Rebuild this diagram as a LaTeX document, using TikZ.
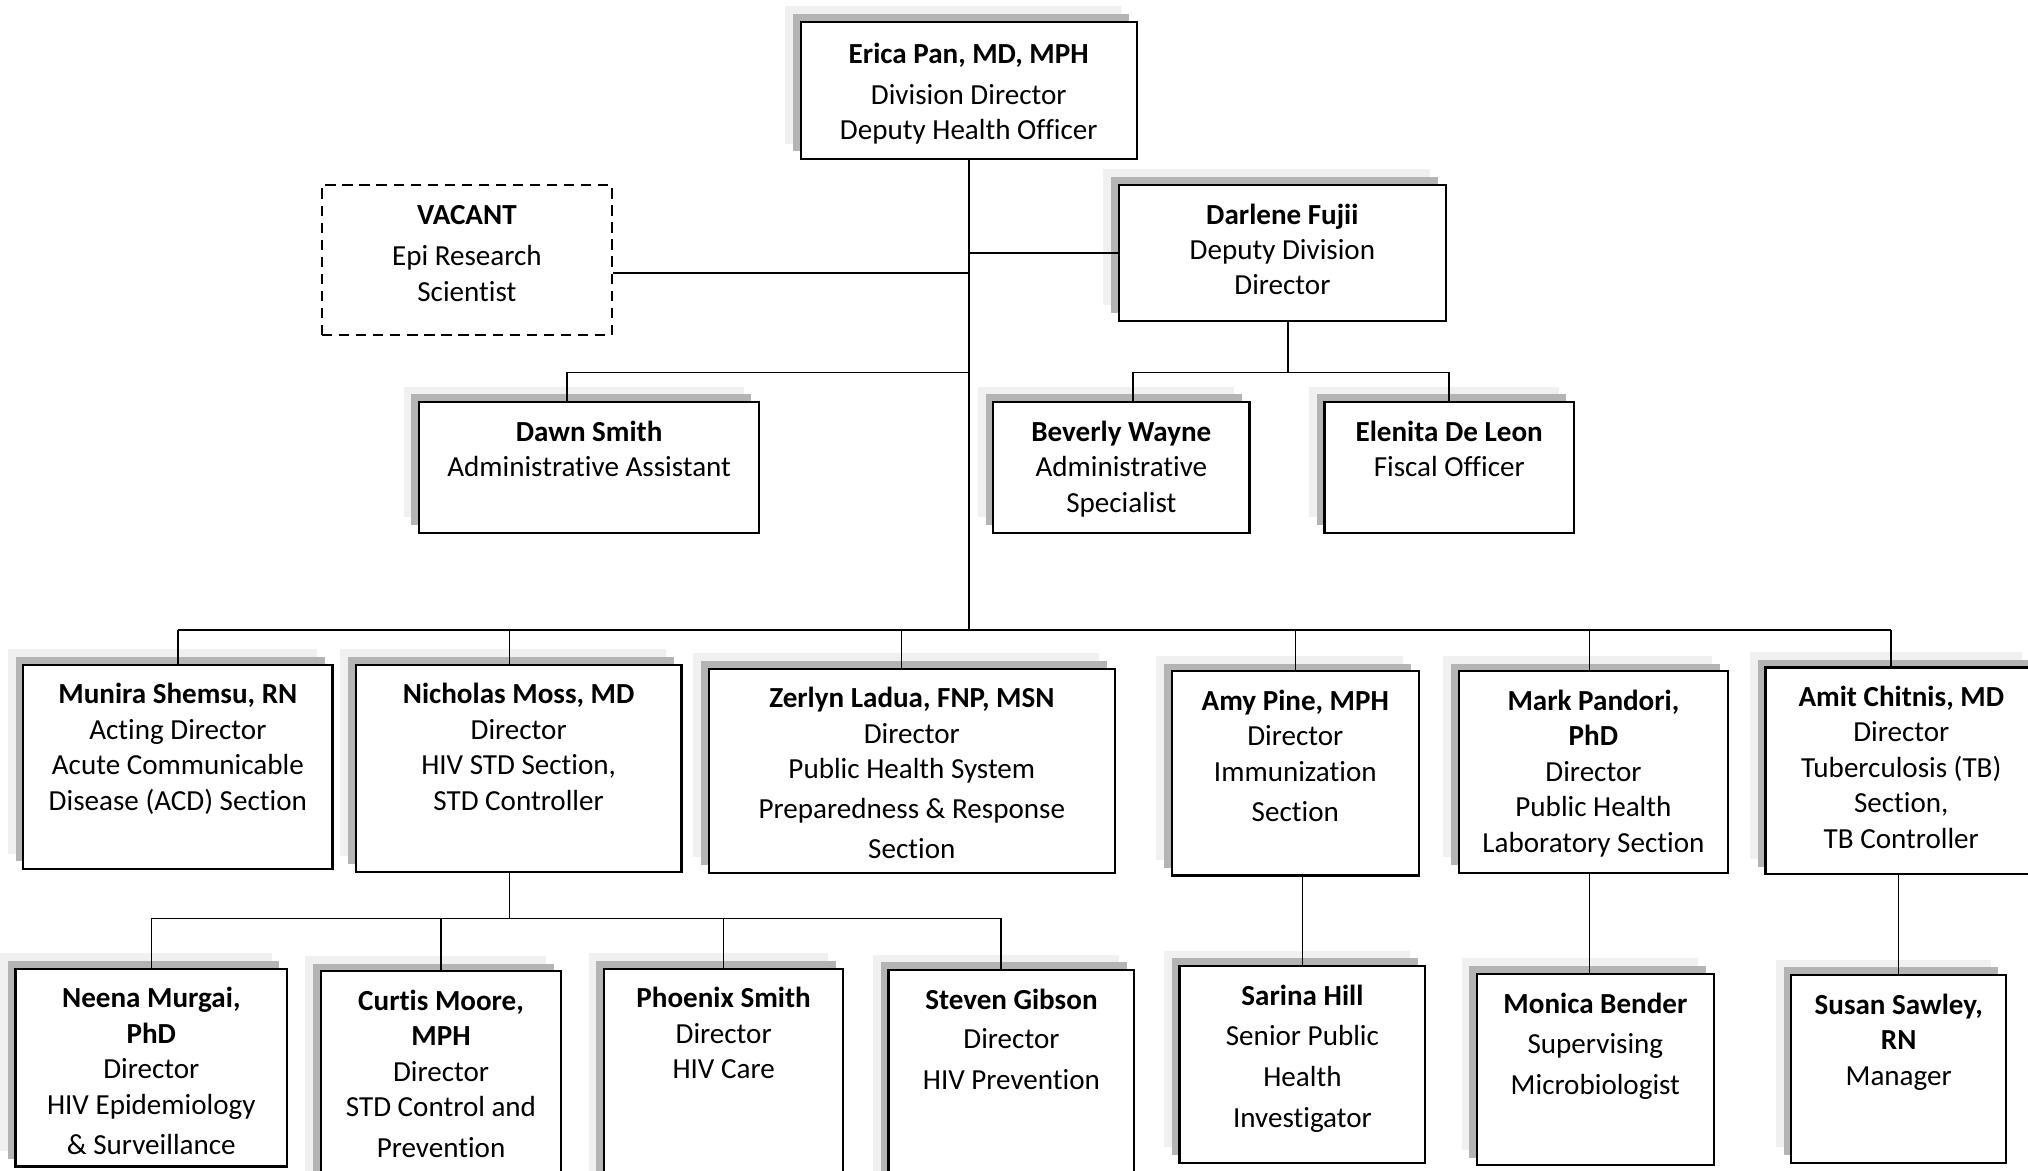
\documentclass[tikz,border=0pt]{standalone}
\usepackage{fontspec}
\setmainfont{Carlito}[Ligatures=NoCommon]
\usetikzlibrary{positioning, shadows}

\definecolor{shlight}{RGB}{240,240,240}
\definecolor{shdark}{RGB}{180,180,180}

\begin{document}
\begin{tikzpicture}[x=0.02cm, y=-0.02cm,
  every node/.style={inner sep=0pt},
  box/.style={rectangle, draw, line width=1pt, fill=white,
    general shadow={fill=shlight, shadow xshift=-0.24cm, shadow yshift=0.24cm},
    general shadow={fill=shdark, shadow xshift=-0.12cm, shadow yshift=0.12cm}},
  vacantbox/.style={rectangle, draw, line width=1pt, dash pattern=on 4.5pt off 3pt},
  txt/.style={align=center, font=\fontsize{12.8}{15.6}\selectfont},
  link/.style={line width=0.7pt}]
  \useasboundingbox (0,0) rectangle (1568,905);
  \fill[white] (0,0) rectangle (1568,905);
  \clip (0,0) rectangle (1568,905);

  % top of the chart
  \node[box, minimum width=5.2cm, minimum height=2.12cm] (erica) at (749,70) {};
  \node[vacantbox, minimum width=4.48cm, minimum height=2.32cm] (vacant) at (361,201) {};
  \node[box, minimum width=5.06cm, minimum height=2.1cm] (darlene) at (991.5,195.5) {};
  \node[box, minimum width=5.26cm, minimum height=2.02cm] (dawn) at (455.5,361.5) {};
  \node[box, minimum width=3.96cm, minimum height=2.02cm] (beverly) at (867,361.5) {};
  \node[box, minimum width=3.86cm, minimum height=2.02cm] (elenita) at (1120.5,361.5) {};

  % sections
  \node[box, minimum width=4.78cm, minimum height=3.16cm] (munira) at (137.5,593) {};
  \node[box, minimum width=5.04cm, minimum height=3.2cm] (nicholas) at (401,594) {};
  \node[box, minimum width=6.28cm, minimum height=3.16cm] (zerlyn) at (705,596) {};
  \node[box, minimum width=3.82cm, minimum height=3.16cm] (amy) at (1001.5,598) {};
  \node[box, minimum width=4.16cm, minimum height=3.12cm] (mark) at (1232,597) {};
  \node[box, minimum width=4.2cm, minimum height=3.2cm] (amit) at (1470,596) {};

  % units
  \node[box, minimum width=4.2cm, minimum height=3.06cm] (neena) at (117,825.5) {};
  \node[box, minimum width=3.72cm, minimum height=3.58cm] (curtis) at (341,840.5) {};
  \node[box, minimum width=3.7cm, minimum height=3.62cm] (phoenix) at (559.5,839.5) {};
  \node[box, minimum width=3.8cm, minimum height=3.6cm] (steven) at (782,840) {};
  \node[box, minimum width=3.8cm, minimum height=3.04cm] (sarina) at (1007,823) {};
  \node[box, minimum width=3.66cm, minimum height=2.96cm] (monica) at (1233.5,827) {};
  \node[box, minimum width=3.32cm, minimum height=2.9cm] (susan) at (1468,826.5) {};

  % texts
  \node[txt, below=0.33cm of erica.north] (erica-t) {\textbf{Erica Pan, MD, MPH}\\[2.5pt] Division Director\\ Deputy Health Officer};
  \node[txt, below=0.33cm of vacant.north] (vacant-t) {\textbf{VACANT}\\[2.5pt] Epi Research\\ Scientist};
  \node[txt, below=0.3cm of darlene.north] (darlene-t) {\textbf{Darlene Fujii}\\ Deputy Division\\ Director};
  \node[txt, below=0.3cm of dawn.north] (dawn-t) {\textbf{Dawn Smith}\\ Administrative Assistant};
  \node[txt, below=0.3cm of beverly.north] (beverly-t) {\textbf{Beverly Wayne}\\ Administrative\\ Specialist};
  \node[txt, below=0.3cm of elenita.north] (elenita-t) {\textbf{Elenita De Leon}\\ Fiscal Officer};
  \node[txt, below=0.3cm of munira.north] (munira-t) {\textbf{Munira Shemsu, RN}\\ Acting Director\\ Acute Communicable\\ Disease (ACD) Section};
  \node[txt, below=0.3cm of nicholas.north] (nicholas-t) {\textbf{Nicholas Moss, MD}\\ Director\\ HIV STD Section,\\ STD Controller};
  \node[txt, below=0.3cm of zerlyn.north] (zerlyn-t) {\textbf{Zerlyn Ladua, FNP, MSN}\\ Director\\ Public Health System\\[1.8pt] Preparedness \& Response\\[2.3pt] Section};
  \node[txt, below=0.3cm of amy.north] (amy-t) {\textbf{Amy Pine, MPH}\\ Director\\ Immunization\\[2.3pt] Section};
  \node[txt, below=0.3cm of mark.north] (mark-t) {\textbf{Mark Pandori,}\\ \textbf{PhD}\\ Director\\ Public Health\\ Laboratory Section};
  \node[txt, below=0.3cm of amit.north] (amit-t) {\textbf{Amit Chitnis, MD}\\ Director\\ Tuberculosis (TB)\\ Section,\\ TB Controller};
  \node[txt, below=0.3cm of neena.north] (neena-t) {\textbf{Neena Murgai,}\\ \textbf{PhD}\\ Director\\ HIV Epidemiology\\[2.3pt] \& Surveillance};
  \node[txt, below=0.3cm of curtis.north] (curtis-t) {\textbf{Curtis Moore,}\\ \textbf{MPH}\\ Director\\ STD Control and\\[2.3pt] Prevention};
  \node[txt, below=0.3cm of phoenix.north] (phoenix-t) {\textbf{Phoenix Smith}\\ Director\\ HIV Care};
  \node[txt, below=0.3cm of steven.north] (steven-t) {\textbf{Steven Gibson}\\[1.8pt] Director\\[2.3pt] HIV Prevention};
  \node[txt, below=0.3cm of sarina.north] (sarina-t) {\textbf{Sarina Hill}\\[2.3pt] Senior Public\\[2.3pt] Health\\[2.3pt] Investigator};
  \node[txt, below=0.3cm of monica.north] (monica-t) {\textbf{Monica Bender}\\[2.3pt] Supervising\\[2.3pt] Microbiologist};
  \node[txt, below=0.3cm of susan.north] (susan-t) {\textbf{Susan Sawley,}\\ \textbf{RN}\\ Manager};

  % connectors
  \coordinate (bus) at (749,487);
  \coordinate (vj) at (749,211);
  \coordinate (aj) at (749,288);
  \coordinate (dj) at (996,288);
  \coordinate (nj) at (394,710);

  \draw[link] (erica.south) -- (bus);
  \draw[link] (vacant.east |- vj) -- (vj);
  \draw[link] (darlene.west) -- (darlene.west -| bus);
  \draw[link] (aj) -| ([xshift=-0.34cm]dawn.north);
  \draw[link] (darlene.south -| dj) -- (dj);
  \draw[link] ([xshift=0.18cm]beverly.north) |- (dj) -| (elenita.north);

  \draw[link] (munira.north |- bus) -- ([xshift=-0.16cm]amit.north |- bus);
  \foreach \n/\dx in {munira/0, nicholas/-0.14, zerlyn/-0.16, amy/0, mark/-0.06, amit/-0.16}
    \draw[link] ([xshift=\dx cm]\n.north |- bus) -- ([xshift=\dx cm]\n.north);

  \draw[link] (nicholas.south -| nj) -- (nj);
  \draw[link] (neena.north |- nj) -- ([xshift=-0.16cm]steven.north |- nj);
  \foreach \n/\dx in {neena/0, curtis/0, phoenix/0, steven/-0.16}
    \draw[link] ([xshift=\dx cm]\n.north |- nj) -- ([xshift=\dx cm]\n.north);

  \draw[link] (amy.south -| sarina.north) -- (sarina.north);
  \draw[link] ([xshift=-0.06cm]mark.south) -- ([xshift=-0.06cm]mark.south |- monica.north);
  \draw[link] (amit.south -| susan.north) -- (susan.north);
\end{tikzpicture}
\end{document}
